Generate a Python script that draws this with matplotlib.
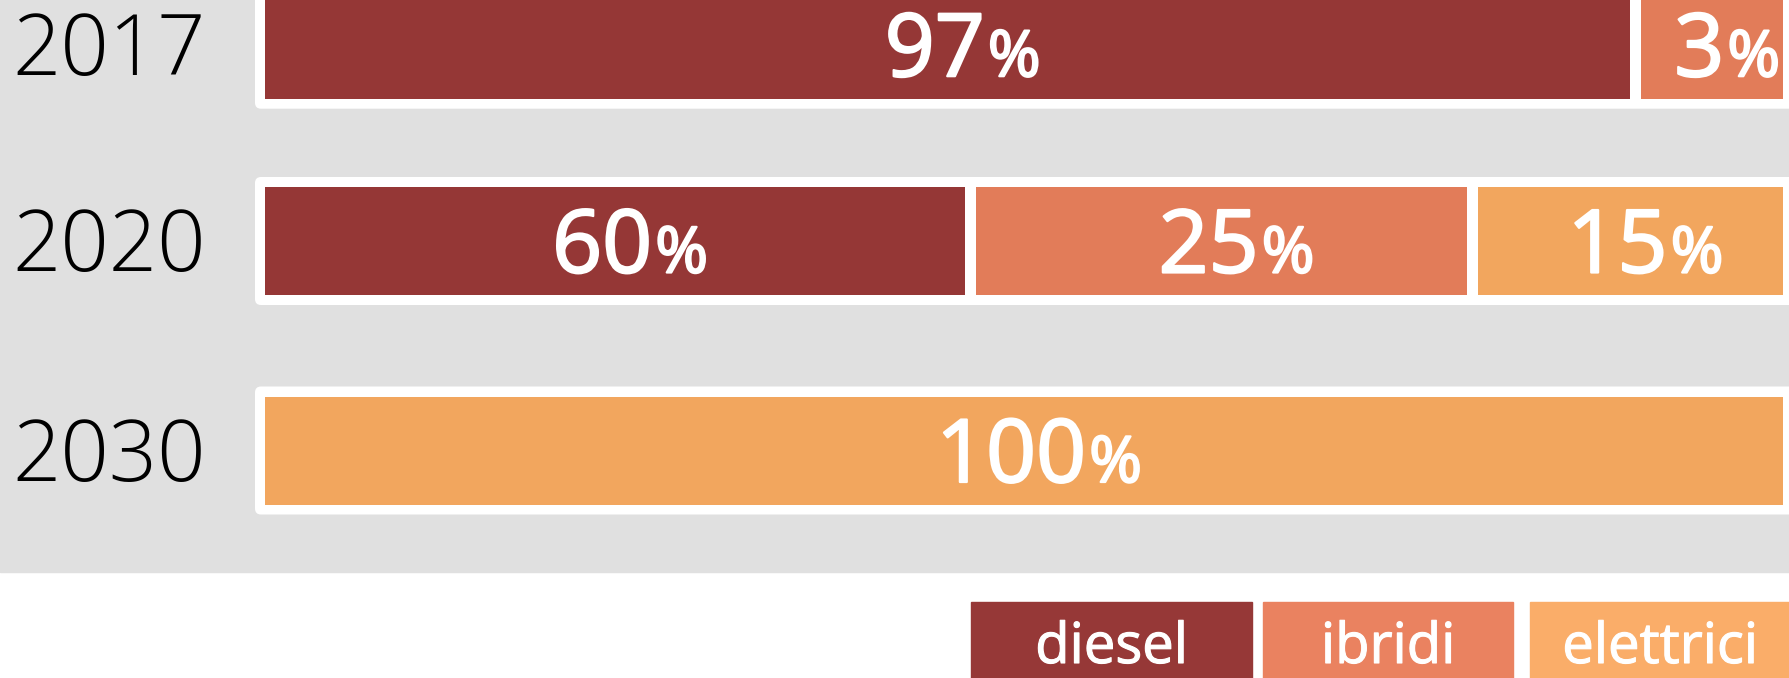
import matplotlib
matplotlib.use('Agg')
import matplotlib.pyplot as plt
import matplotlib.patheffects as pe
from matplotlib.patches import FancyBboxPatch, Rectangle

# years shown on the left, one row each
years = ['2017', '2020', '2030']
fuel_types = ['diesel', 'ibridi', 'elettrici']

# percentage labels for each fuel type, one value per year
diesel_pct = [97, 60, 0]
ibridi_pct = [3, 25, 0]
elettrici_pct = [0, 15, 100]

# segment lengths as drawn in the original (share of the row in %)
diesel_len = [90.6, 46.8, 0]
ibridi_len = [9.4, 32.8, 0]
elettrici_len = [0, 20.4, 100]

bar_colors = ['#953736', '#E27C59', '#F2A65E']
legend_colors = ['#963837', '#EA8260', '#FAAD69']

# layout, in pixels of the 1790x678 picture
W, H = 1790, 678
row_y = [44.7, 241, 450.5]
bar_h = 108
pad = 10
x0, x1 = 265, 1783
gap = 11

plt.rcParams['font.family'] = ['Open Sans', 'DejaVu Sans']

# regular weight thickened a little, to look like a semibold cut
semi = [pe.withStroke(linewidth=1.6, foreground='white')]
semi_small = [pe.withStroke(linewidth=0.8, foreground='white')]

fig = plt.figure(figsize=(W / 100, H / 100), dpi=100)
ax = fig.add_axes([0, 0, 1, 1])
ax.set_xlim(0, W)
ax.set_ylim(H, 0)
ax.axis('off')

# grey panel behind the bars
ax.add_patch(Rectangle((0, 0), W, 572, color='#E0E0E0', zorder=0))

pcts = list(zip(diesel_pct, ibridi_pct, elettrici_pct))
lens = list(zip(diesel_len, ibridi_len, elettrici_len))

labels = []
for i, y in enumerate(row_y):
    # white rounded frame
    ax.add_patch(FancyBboxPatch((x0 - pad, y - bar_h / 2 - pad), W, bar_h + 2 * pad,
                                boxstyle='round,pad=0,rounding_size=6',
                                fc='white', ec='none', zorder=1))
    ax.text(109, y + 30, years[i], ha='center', va='baseline', fontsize=61,
            fontweight='light', color='black')

    segs = [(k, lens[i][k], pcts[i][k]) for k in range(3) if pcts[i][k] > 0]
    avail = (x1 - x0) - gap * (len(segs) - 1)
    left = x0
    for k, ln, p in segs:
        w = ln / 100 * avail
        ax.barh(y, w, left=left, height=bar_h, color=bar_colors[k], zorder=2)
        tn = ax.text(0, y + 31.5, str(p), ha='left', va='baseline', fontsize=63,
                     color='white', zorder=3, path_effects=semi)
        tp = ax.text(0, y + 31.5, '%', ha='left', va='baseline', fontsize=46,
                     color='white', zorder=3, path_effects=semi)
        labels.append((tn, tp, left + w / 2))
        left += w + gap

# centre number + percent sign together on each segment
fig.canvas.draw()
inv = ax.transData.inverted()
for tn, tp, cx in labels:
    bn = tn.get_window_extent()
    bp = tp.get_window_extent()
    wn = inv.transform((bn.x1, 0))[0] - inv.transform((bn.x0, 0))[0]
    wp = inv.transform((bp.x1, 0))[0] - inv.transform((bp.x0, 0))[0]
    start = cx + 15 - (wn + 3 + wp) / 2
    tn.set_x(start)
    tp.set_x(start + wn + 3)

# legend boxes at the bottom right
leg_left = [971, 1263, 1530]
leg_w = [281, 250, 270]
for k, name in enumerate(fuel_types):
    ax.add_patch(Rectangle((leg_left[k], 602), leg_w[k], 90, color=legend_colors[k], zorder=2))
    ax.text(leg_left[k] + min(leg_w[k], W - leg_left[k]) / 2, 663, name, ha='center',
            va='baseline', fontsize=40.5, color='white', zorder=3, path_effects=semi_small)

fig.savefig('out.png', dpi=100)
